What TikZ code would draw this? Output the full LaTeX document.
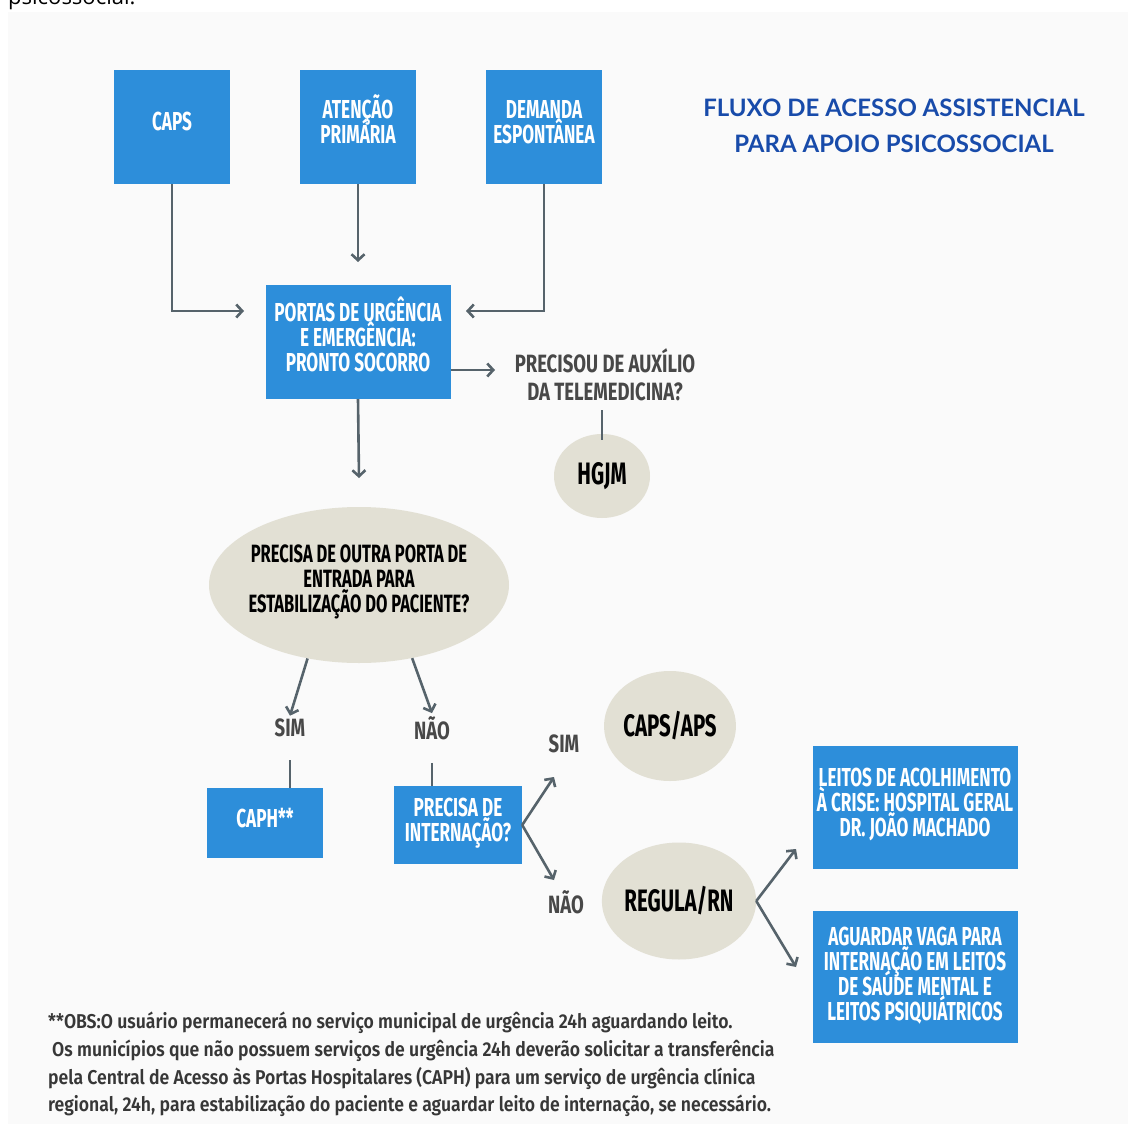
\documentclass[tikz,border=0pt]{standalone}
\usepackage{fontspec}
\usetikzlibrary{arrows.meta, shapes.geometric}
\setmainfont{Fira Sans}
\newfontfamily\condfont[FakeStretch=0.66]{Fira Sans}
\newfontfamily\labfont[FakeStretch=0.74]{Fira Sans}
\IfFontExistsTF{Fira Sans SemiBold}
  {\newfontfamily\notefont[FakeStretch=0.88]{Fira Sans SemiBold}}
  {\newfontfamily\notefont[FakeStretch=0.9]{Fira Sans}}
\newfontfamily\titlefont{Lato}
\newfontfamily\topfont{Open Sans}
\definecolor{boxblue}{RGB}{45,142,218}
\definecolor{ovalgray}{RGB}{226,224,212}
\definecolor{arrowgray}{RGB}{86,99,107}
\definecolor{titleblue}{RGB}{24,75,170}
\definecolor{labgray}{RGB}{72,72,72}
\definecolor{notegray}{RGB}{55,55,55}
\definecolor{panel}{RGB}{250,250,250}
\newcommand{\tightlines}{\lineskiplimit=-100pt\lineskip=0pt}

\begin{document}
\begin{tikzpicture}[x=1pt, y=-1pt,
  bluebox/.style={rectangle, fill=boxblue, text=white, align=center, inner sep=0pt,
    text depth=10pt, font=\condfont\bfseries\fontsize{26}{25}\selectfont\tightlines},
  oval/.style={ellipse, fill=ovalgray, text=black, align=center, inner sep=0pt,
    font=\condfont\bfseries\fontsize{31}{25}\selectfont\tightlines},
  lab/.style={text=labgray, align=center, inner sep=3pt,
    font=\labfont\bfseries\fontsize{25}{28}\selectfont\tightlines},
  lines/.style={text height={(#1-1)*25pt+18pt}},
  flow/.style={draw=arrowgray, line width=2.6pt, -{Straight Barb[length=6pt,width=13pt]}},
  link/.style={draw=arrowgray, line width=2.6pt},
]
  \useasboundingbox (0,0) rectangle (1128,1124);
  \clip (0,0) rectangle (1128,1124);
  \fill[white] (0,0) rectangle (1128,1124);
  \fill[panel] (8,12) rectangle (1128,1124);
  \node[anchor=base west, inner sep=0pt, font=\topfont\fontsize{22}{22}\selectfont] (frag) at (8,5) {psicossocial.};

  \node[bluebox, lines=1, minimum width=116pt, minimum height=114pt] (caps) at (172,127) {CAPS};
  \node[bluebox, lines=2, minimum width=116pt, minimum height=114pt] (atencao) at (358,127) {ATENÇÃO\\PRIMÁRIA};
  \node[bluebox, lines=2, minimum width=116pt, minimum height=114pt] (demanda) at (544,127) {DEMANDA\\ESPONTÂNEA};
  \node[bluebox, lines=3, minimum width=185pt, minimum height=114pt] (portas) at (358,342) {PORTAS DE URGÊNCIA\\E EMERGÊNCIA:\\PRONTO SOCORRO};
  \node[lab] (tele) at (605,375) {PRECISOU DE AUXÍLIO\\DA TELEMEDICINA?};
  \node[oval, minimum width=96pt, minimum height=84pt] (hgjm) at (602,476) {HGJM};
  \node[oval, minimum width=300pt, minimum height=156pt, text height=67pt, text depth=12pt, inner xsep=-8pt,
    font=\condfont\bfseries\fontsize{25}{25}\selectfont\tightlines] (quest) at (359,585) {PRECISA DE OUTRA PORTA DE\\ENTRADA PARA\\ESTABILIZAÇÃO DO PACIENTE?};
  \node[lab] (sim1) at (290,728) {SIM};
  \node[lab] (nao1) at (432,728) {NÃO};
  \node[bluebox, lines=1, minimum width=116pt, minimum height=70pt] (caph) at (265,823) {CAPH**};
  \node[bluebox, lines=2, minimum width=128pt, minimum height=78pt] (intern) at (458,825) {PRECISA DE\\INTERNAÇÃO?};
  \node[lab] (sim2) at (564,744) {SIM};
  \node[lab] (nao2) at (566,902) {NÃO};
  \node[oval, minimum width=130pt, minimum height=110pt] (capsaps) at (670,726) {CAPS/APS};
  \node[oval, minimum width=150pt, minimum height=117pt] (regula) at (679,901) {REGULA/RN};
  \node[bluebox, lines=3, minimum width=205pt, minimum height=123pt] (leitos) at (915,807) {LEITOS DE ACOLHIMENTO\\À CRISE: HOSPITAL GERAL\\DR. JOÃO MACHADO};
  \node[bluebox, lines=4, text depth=7pt, minimum width=205pt, minimum height=132pt] (aguardar) at (915,977) {AGUARDAR VAGA PARA\\INTERNAÇÃO EM LEITOS\\DE SAÚDE MENTAL E\\LEITOS PSIQUIÁTRICOS};

  \node[text=titleblue, align=center, inner sep=0pt, font=\titlefont\bfseries\fontsize{24}{36}\selectfont] (titulo) at (894,126) {FLUXO DE ACESSO ASSISTENCIAL\\PARA APOIO PSICOSSOCIAL};

  \node[anchor=north west, align=left, inner sep=0pt, text=notegray, font=\notefont\fontsize{20}{27.7}\selectfont] (obs) at (48,1012)
    {**OBS:O usuário permanecerá no serviço municipal de urgência 24h aguardando leito.\\
     \hspace*{4pt}Os municípios que não possuem serviços de urgência 24h deverão solicitar a transferência\\
     pela Central de Acesso às Portas Hospitalares (CAPH) para um serviço de urgência clínica\\
     regional, 24h, para estabilização do paciente e aguardar leito de internação, se necessário.};

  \coordinate (portasL) at (244,311);
  \coordinate (portasR) at (466,311);
  \coordinate (portasT) at (358,262);
  \coordinate (teleL) at (495,370);
  \coordinate (questT) at (359,478);
  \coordinate (simend) at (554,777);
  \coordinate (naoend) at (554,880);
  \coordinate (leitosend) at (796,849);
  \coordinate (aguardend) at (796,967);

  \draw[flow] (caps.south) |- (portasL);
  \draw[flow] (atencao.south) -- (portasT);
  \draw[flow] (demanda.south) |- (portasR);
  \draw[flow] (portas.east |- teleL) -- (teleL);
  \draw[link, shorten <=6pt, shorten >=-6pt] (hgjm.north |- tele.south) -- (hgjm.north);
  \draw[flow] (portas.south) -- (questT);
  \draw[flow] (quest.235) -- (sim1.north);
  \draw[flow] (quest.306) -- (nao1.north);
  \draw[link, shorten <=20pt] (sim1.south) -- (caph.north -| sim1.south);
  \draw[link, shorten <=20pt] (nao1.south) -- (intern.north -| nao1.south);
  \draw[flow] (intern.east) -- (simend);
  \draw[flow] (intern.east) -- (naoend);
  \draw[flow] (regula.east) -- (leitosend);
  \draw[flow] (regula.east) -- (aguardend);
\end{tikzpicture}
\end{document}
